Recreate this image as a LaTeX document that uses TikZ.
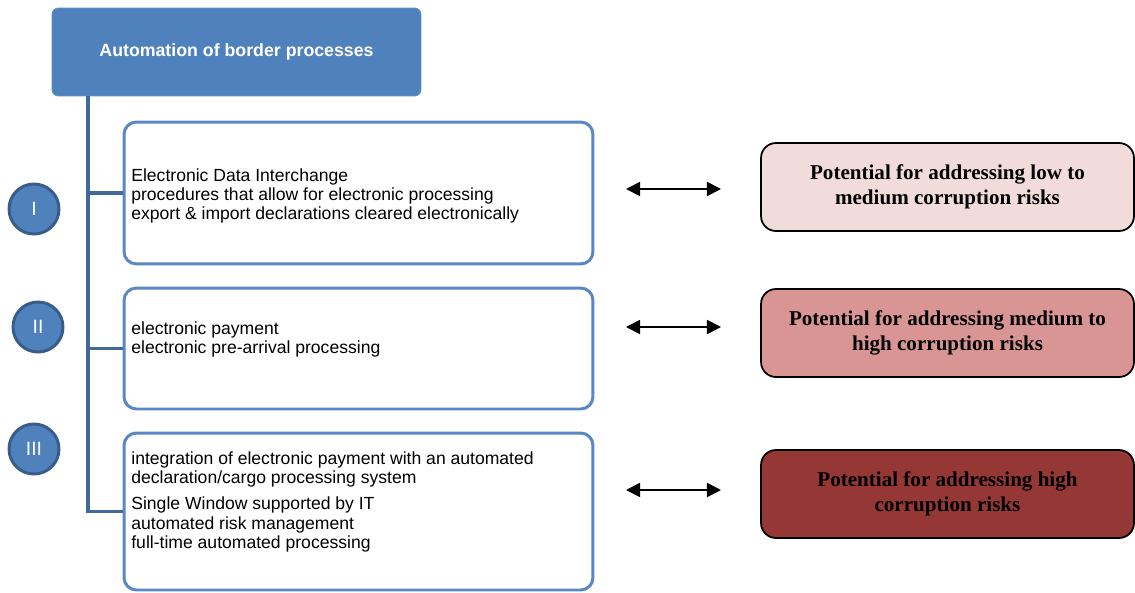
\documentclass[tikz,border=0pt]{standalone}
\usepackage{fontspec}
\setmainfont{Liberation Serif}
\setsansfont{Liberation Sans}
\usetikzlibrary{arrows.meta}
\definecolor{topblue}{HTML}{4F81BD}
\definecolor{boxline}{HTML}{5A87C5}
\definecolor{trunk}{HTML}{41699A}
\definecolor{circline}{HTML}{385D8A}
\definecolor{riskA}{HTML}{F2DCDB}
\definecolor{riskB}{HTML}{D99594}
\definecolor{riskC}{HTML}{953735}
\begin{document}
\begin{tikzpicture}[x=0.02cm,y=-0.02cm,
  topbox/.style={draw=topblue!90!white,fill=topblue,rounded corners=3.5pt,minimum width=7.38cm,minimum height=1.76cm,
     text=white,font=\sffamily\bfseries\fontsize{10.1}{11}\selectfont},
  levelbox/.style={draw=boxline,line width=1.7pt,fill=white,rounded corners=7pt,minimum width=9.38cm},
  itemtext/.style={anchor=north west,inner sep=0pt,align=left,font=\sffamily\fontsize{10}{11}\selectfont},
  roman/.style={circle,draw=circline,line width=1.7pt,fill=topblue,minimum size=1cm,inner sep=0pt,
     text=white,font=\sffamily\fontsize{11}{12}\selectfont},
  riskbox/.style={draw=black,line width=1pt,rounded corners=8.5pt,minimum width=7.46cm,minimum height=1.76cm,
     align=center,font=\rmfamily\bfseries\fontsize{12}{14.5}\selectfont},
  conn/.style={draw=trunk,line width=2pt},
  dbl/.style={line width=1pt,{Triangle[length=8pt,width=8pt]}-{Triangle[length=8pt,width=8pt]}}
]
\useasboundingbox (0,0) rectangle (1135,592);

\node[topbox] (top) at (236.5,52) {Automation of border processes};

\node[levelbox,minimum height=2.84cm] (b1) at (358.5,193) {};
\node[levelbox,minimum height=2.42cm] (b2) at (358.5,348.5) {};
\node[levelbox,minimum height=3.14cm] (b3) at (358.5,511.5) {};

\node[itemtext] (t1) at (131,168) {Electronic Data Interchange\\procedures that allow for electronic processing\\export \& import declarations cleared electronically};
\node[itemtext] (t2) at (131,321) {electronic payment\\electronic pre-arrival processing};
\node[itemtext] (t3) at (131,451) {integration of electronic payment with an automated\\declaration/cargo processing system\\[4pt]Single Window supported by IT\\automated risk management\\full-time automated processing};

\coordinate (t0) at (88,96);
\draw[conn] (t0) |- (b3.west);
\draw[conn] (t0 |- b1.west) -- (b1.west);
\draw[conn] (t0 |- b2.west) -- (b2.west);

\node[roman] (c1) at (34,209) {I};
\node[roman] (c2) at (38,327) {II};
\node[roman] (c3) at (34,449) {III};

\node[riskbox,fill=riskA] (r1) at (947.5,187) {Potential for addressing low to\\medium corruption risks};
\node[riskbox,fill=riskB] (r2) at (947.5,333) {Potential for addressing medium to\\high corruption risks};
\node[riskbox,fill=riskC] (r3) at (947.5,494) {Potential for addressing high\\corruption risks};

\coordinate (a1l) at (626,189); \coordinate (a1r) at (721,189);
\coordinate (a2l) at (626,327); \coordinate (a2r) at (721,327);
\coordinate (a3l) at (626,490); \coordinate (a3r) at (721,490);
\draw[dbl] (a1l) -- (a1r);
\draw[dbl] (a2l) -- (a2r);
\draw[dbl] (a3l) -- (a3r);
\end{tikzpicture}
\end{document}
